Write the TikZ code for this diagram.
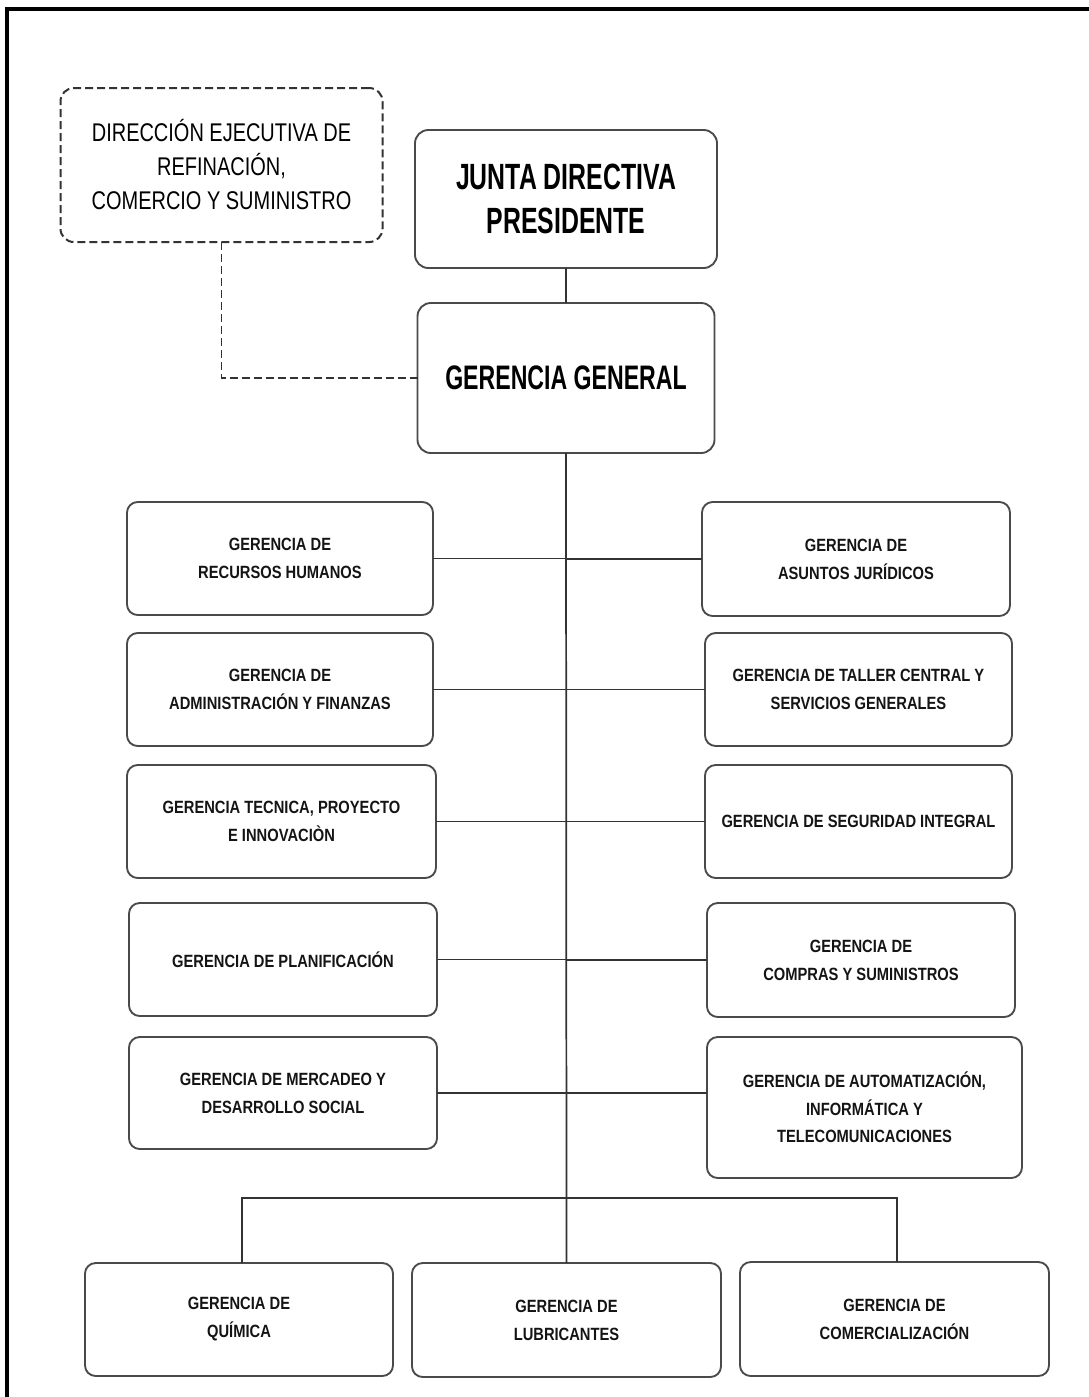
\documentclass[tikz,border=0pt]{standalone}
\usepackage{fontspec}
\setmainfont{Liberation Sans}
\newfontfamily\smallfont{Liberation Sans}[FakeStretch=0.83]
\newfontfamily\bigfont{Liberation Sans}[FakeStretch=0.68]
\newfontfamily\dirfont{Liberation Sans}[FakeStretch=0.78]
\definecolor{boxgray}{HTML}{4A4A4A}
\definecolor{linegray}{HTML}{333333}
\definecolor{textdark}{HTML}{141414}
\begin{document}
\begin{tikzpicture}[x=0.75pt, y=-0.75pt,
  sz/.style 2 args={minimum width=#1*0.75pt, minimum height=#2*0.75pt},
  gbox/.style={draw=boxgray, line width=1.4pt, rounded corners=8pt, inner sep=0pt, outer sep=0pt,
    align=center, text=textdark, font=\smallfont\bfseries\fontsize{13.3}{21}\selectfont},
  topbox/.style={gbox, rounded corners=10pt, text=black},
  dirbox/.style={draw=linegray, line width=1.5pt, dash pattern=on 6pt off 3pt, rounded corners=10pt,
    inner sep=0pt, outer sep=0pt, align=center, text=black, font=\dirfont\fontsize{19.2}{25.5}\selectfont},
  conn/.style={draw=linegray, line width=1.3pt},
  dconn/.style={draw=linegray, line width=1.3pt, dash pattern=on 6pt off 3pt}]
\useasboundingbox (0,0) rectangle (1089,1397);
% outer frame
\coordinate (frameBL) at (7,1397);
\coordinate (frameTR) at (1089,9);
\draw[line width=2.3pt, black] (frameBL) |- (frameTR);

% top
\node[dirbox, sz={322}{154}] (dir) at (221.5,165) {DIRECCIÓN EJECUTIVA DE\\REFINACIÓN,\\COMERCIO Y SUMINISTRO};
\node[topbox, sz={302}{138}, font=\bigfont\bfseries\fontsize{27.4}{33}\selectfont] (junta) at (566,199) {JUNTA DIRECTIVA\\PRESIDENTE};
\node[topbox, sz={297}{150}, font=\bigfont\bfseries\fontsize{25.5}{30}\selectfont] (gg) at (566,378) {GERENCIA GENERAL};

% left column
\node[gbox, sz={306}{113}] (L1) at (280,558.5) {GERENCIA DE\\RECURSOS HUMANOS};
\node[gbox, sz={306}{113}] (L2) at (280,689.5) {GERENCIA DE\\ADMINISTRACIÓN Y FINANZAS};
\node[gbox, sz={309}{113}] (L3) at (281.5,821.5) {GERENCIA TECNICA, PROYECTO\\E INNOVACIÒN};
\node[gbox, sz={308}{113}] (L4) at (283,959.5) {GERENCIA DE PLANIFICACIÓN};
\node[gbox, sz={308}{112}] (L5) at (283,1093) {GERENCIA DE MERCADEO Y\\DESARROLLO SOCIAL};

% right column
\node[gbox, sz={308}{114}] (R1) at (856,559) {GERENCIA DE\\ASUNTOS JURÍDICOS};
\node[gbox, sz={307}{113}] (R2) at (858.5,689.5) {GERENCIA DE TALLER CENTRAL Y\\SERVICIOS GENERALES};
\node[gbox, sz={307}{113}] (R3) at (858.5,821.5) {GERENCIA DE SEGURIDAD INTEGRAL};
\node[gbox, sz={308}{114}] (R4) at (861,960) {GERENCIA DE\\COMPRAS Y SUMINISTROS};
\node[gbox, sz={315}{141}, font=\smallfont\bfseries\fontsize{13.3}{20.5}\selectfont] (R5) at (864.5,1107.5) {GERENCIA DE AUTOMATIZACIÓN,\\INFORMÁTICA Y\\TELECOMUNICACIONES};

% bottom row
\node[gbox, sz={308}{113}] (quim) at (239,1319.5) {GERENCIA DE\\QUÍMICA};
\node[gbox, sz={309}{114}] (lub) at (566.5,1320) {GERENCIA DE\\LUBRICANTES};
\node[gbox, sz={309}{114}] (com) at (894.5,1319) {GERENCIA DE\\COMERCIALIZACIÓN};

% connectors
\coordinate (spine) at (567,453);
\coordinate (bar) at (567,1198);
\draw[dconn] (dir.south) |- (gg.west);
\draw[conn] (junta.south) -- (gg.north);
\draw[conn] (gg.south) -- (lub.north);
\foreach \n in {L1,L2,L3,L4}{\draw[conn] (\n.east) -- (\n.east -| spine);}
\foreach \n in {R1,R2,R3,R4}{\draw[conn] (\n.west) -- (\n.west -| spine);}
\draw[conn] (L5.east) -- (L5.east -| R5.west);
\draw[conn] ([xshift=2.25pt]quim.north) -- ([xshift=2.25pt]quim.north |- bar) -- ([xshift=1.9pt]com.north |- bar) -- ([xshift=1.9pt]com.north);
\end{tikzpicture}
\end{document}
